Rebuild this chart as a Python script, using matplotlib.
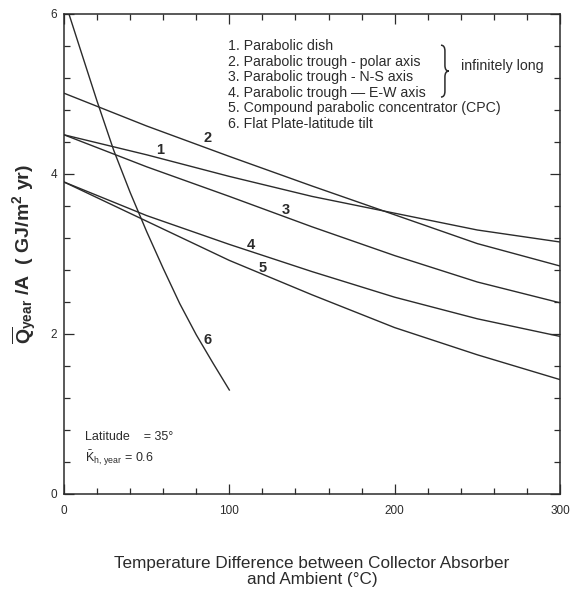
import matplotlib
matplotlib.use("Agg")
import matplotlib.pyplot as plt
from matplotlib.path import Path
from matplotlib.patches import PathPatch
from matplotlib.ticker import MultipleLocator

plt.rcParams['font.family'] = ['Liberation Sans', 'DejaVu Sans']
plt.rcParams['mathtext.fontset'] = 'custom'
plt.rcParams['mathtext.rm'] = 'Liberation Sans'
plt.rcParams['mathtext.it'] = 'Liberation Sans'
plt.rcParams['mathtext.bf'] = 'Liberation Sans:bold'

ink = '#2b2b2b'

# curves (delta T in C, Q/A in GJ/m2 yr)
x_1 = [0, 50, 100, 150, 200, 250, 300]
y_1 = [4.49, 4.24, 3.97, 3.72, 3.51, 3.30, 3.15]

x_2 = [0, 50, 100, 150, 200, 250, 300]
y_2 = [5.01, 4.60, 4.22, 3.85, 3.49, 3.13, 2.85]

x_3 = [0, 50, 100, 150, 200, 250, 300]
y_3 = [4.49, 4.09, 3.72, 3.34, 2.98, 2.65, 2.39]

x_4 = [0, 50, 100, 150, 200, 250, 300]
y_4 = [3.90, 3.48, 3.12, 2.78, 2.46, 2.19, 1.97]

x_5 = [0, 50, 100, 150, 200, 250, 300]
y_5 = [3.90, 3.41, 2.92, 2.49, 2.08, 1.74, 1.43]

x_6 = [3, 10, 20, 30, 40, 50, 60, 70, 80, 90, 100]
y_6 = [6.0, 5.55, 4.91, 4.30, 3.77, 3.28, 2.82, 2.38, 1.99, 1.64, 1.30]

curve_names = ['1', '2', '3', '4', '5', '6']
label_x = [58, 87, 134, 113, 120, 87]
label_y = [4.30, 4.45, 3.55, 3.11, 2.83, 1.92]

legend_lines = [
    '1. Parabolic dish',
    '2. Parabolic trough - polar axis',
    '3. Parabolic trough - N-S axis',
    '4. Parabolic trough \u2014 E-W axis',
    '5. Compound parabolic concentrator (CPC)',
    '6. Flat Plate-latitude tilt',
]

fig = plt.figure(figsize=(5.74, 5.92), dpi=100)
ax = fig.add_axes([64 / 574, 98 / 592, 496 / 574, 480 / 592])

for xs, ys in [(x_1, y_1), (x_2, y_2), (x_3, y_3), (x_4, y_4), (x_5, y_5), (x_6, y_6)]:
    ax.plot(xs, ys, color=ink, lw=1.0)

for name, lx, ly in zip(curve_names, label_x, label_y):
    ax.text(lx, ly, name, fontsize=10.5, fontweight='bold', color=ink,
            ha='center', va='center')

ax.set_xlim(0, 300)
ax.set_ylim(0, 6)
ax.xaxis.set_major_locator(MultipleLocator(100))
ax.xaxis.set_minor_locator(MultipleLocator(20))
ax.yaxis.set_major_locator(MultipleLocator(2))
ax.yaxis.set_minor_locator(MultipleLocator(0.4))
ax.tick_params(which='both', direction='in', top=True, right=True,
               color=ink, width=0.9, labelsize=8.5, labelcolor=ink)
ax.tick_params(which='major', length=7)
ax.tick_params(axis='x', which='major', pad=8)
ax.tick_params(axis='y', which='major', pad=5)
ax.tick_params(which='minor', length=4.5)
for sp in ax.spines.values():
    sp.set_linewidth(1.1)
    sp.set_color(ink)

ax.set_xlabel('Temperature Difference between Collector Absorber\nand Ambient (\u00b0C)',
              fontsize=12.3, color=ink, labelpad=28, linespacing=1.05)
ax.set_ylabel(r'$\overline{\mathbf{Q}}_{\mathbf{year}}$ /A  ( GJ/m$^\mathbf{2}$ yr)',
              fontsize=14, color=ink, fontweight='bold', labelpad=8)

# legend block
fs = 10.2
for i, line in enumerate(legend_lines):
    ax.text(0.33, 0.933 - i * 0.0323, line, transform=ax.transAxes,
            fontsize=fs, color=ink, va='center', ha='left')

# curly brace grouping items 2-4
bx, bt, bb, d = 0.768, 0.935, 0.827, 0.008
bm = (bt + bb) / 2
verts = [(bx - d, bt), (bx, bt), (bx, bt - 0.012),
         (bx, bm + 0.012),
         (bx, bm), (bx + d, bm),
         (bx, bm), (bx, bm - 0.012),
         (bx, bb + 0.012),
         (bx, bb), (bx - d, bb)]
codes = [Path.MOVETO, Path.CURVE3, Path.CURVE3, Path.LINETO,
         Path.CURVE3, Path.CURVE3, Path.CURVE3, Path.CURVE3,
         Path.LINETO, Path.CURVE3, Path.CURVE3]
ax.add_patch(PathPatch(Path(verts, codes), transform=ax.transAxes,
                       fill=False, edgecolor=ink, lw=1.1))
ax.text(0.80, 0.892, 'infinitely long', transform=ax.transAxes,
        fontsize=fs, color=ink, va='center', ha='left')

ax.text(0.042, 0.119, 'Latitude    = 35\u00b0', transform=ax.transAxes,
        fontsize=9, color=ink, va='center', ha='left')
ax.text(0.042, 0.075, r'$\bar{K}_{h,\,year}$ = 0.6', transform=ax.transAxes,
        fontsize=9, color=ink, va='center', ha='left')

fig.savefig('out.png', dpi=100)
